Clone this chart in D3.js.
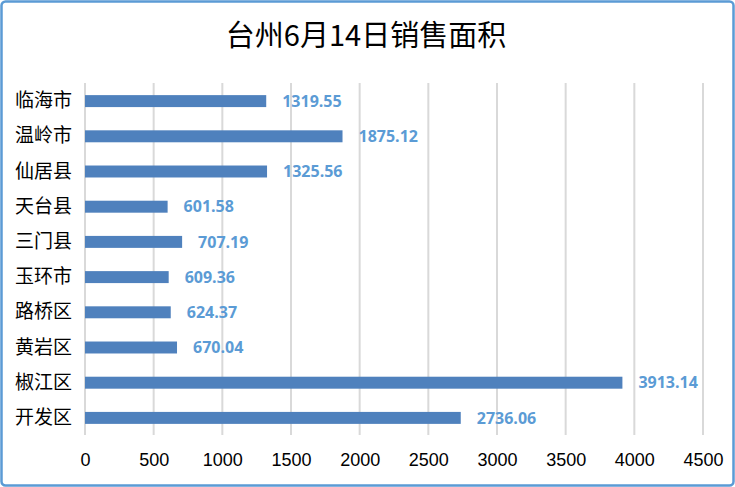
<!DOCTYPE html>
<html><head><meta charset="utf-8">
<script src="https://cdn.jsdelivr.net/npm/d3@7"></script>
<style>body{margin:0;background:#fff}svg{display:block}</style>
</head><body>
<script>
const title = "台州6月14日销售面积";
const categories = ["临海市","温岭市","仙居县","天台县","三门县","玉环市","路桥区","黄岩区","椒江区","开发区"];
const values = [1319.55,1875.12,1325.56,601.58,707.19,609.36,624.37,670.04,3913.14,2736.06];
const xTicks = [0,500,1000,1500,2000,2500,3000,3500,4000,4500];

const W = 735, H = 487;
const svg = d3.select("body").append("svg").attr("width", W).attr("height", H);
svg.append("rect").attr("width", W).attr("height", H).attr("fill", "#fff");
svg.append("rect").attr("x",1.5).attr("y",1.5).attr("width",W-3).attr("height",H-3).attr("rx",4)
  .attr("fill","none").attr("stroke","#5b9bd5").attr("stroke-width",2.5);

svg.append("text").attr("x", 366).attr("y", 46).attr("text-anchor","middle")
  .attr("font-family","'Noto Sans CJK SC', sans-serif").attr("font-size",29).attr("fill","#000")
  .text(title);

const x = d3.scaleLinear().domain([0,4500]).range([85,703]);
const y = d3.scaleBand().domain(categories).range([83.5,435.5]).paddingInner(0.66).paddingOuter(0.33);

const grid = svg.append("g");
grid.selectAll("line").data(xTicks).join("line")
  .attr("x1", d=>x(d)).attr("x2", d=>x(d)).attr("y1", 83).attr("y2", 435)
  .attr("stroke","#d9d9d9").attr("stroke-width",2);

const xAxis = d3.axisBottom(x).tickValues(xTicks).tickSize(0).tickPadding(0).tickFormat(d3.format("d"));
const gx = svg.append("g").attr("transform","translate(0,466)").call(xAxis);
gx.select(".domain").remove();
gx.selectAll("text").attr("font-family","'Liberation Sans', Arial, sans-serif").attr("font-size",18).attr("fill","#000").attr("dy",0);

const yAxis = d3.axisLeft(y).tickSize(0).tickPadding(13);
const gy = svg.append("g").attr("transform","translate(85,0)").call(yAxis);
gy.select(".domain").remove();
gy.selectAll("text").attr("font-family","'Noto Sans CJK SC', sans-serif").attr("font-size",19).attr("fill","#000");

svg.append("g").selectAll("rect").data(values).join("rect")
  .attr("x", x(0)).attr("y",(d,i)=>y(categories[i]))
  .attr("width", d=>x(d)-x(0)).attr("height", y.bandwidth())
  .attr("fill","#4f81bd");

svg.append("g").selectAll("text").data(values).join("text")
  .attr("x", d=>x(d)+16).attr("y",(d,i)=>y(categories[i])+y.bandwidth()/2)
  .attr("dy","0.36em")
  .attr("font-family","'Open Sans', sans-serif").attr("font-weight","bold").attr("font-size",16)
  .attr("fill","#5b9bd5")
  .text(d=>d.toFixed(2));
</script>
</body></html>
